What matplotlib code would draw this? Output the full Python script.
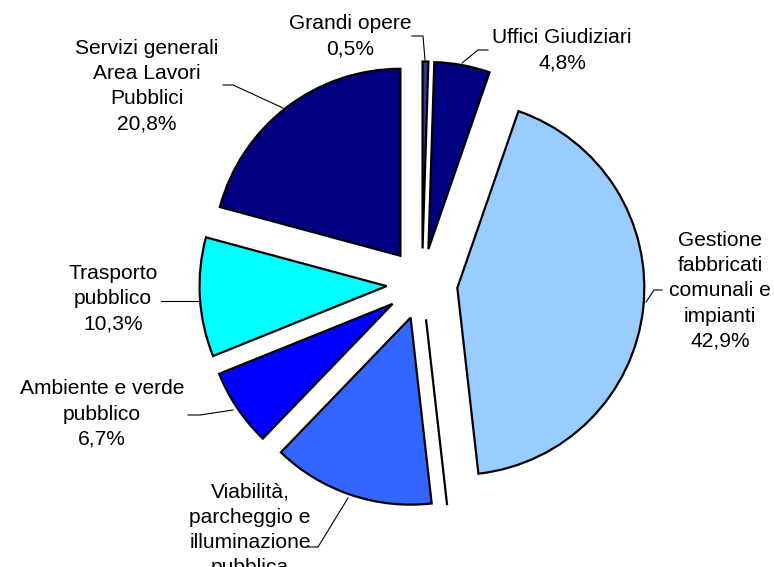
import matplotlib.pyplot as plt

# dati
categorie = ['Grandi opere', 'Uffici Giudiziari', 'Gestione fabbricati comunali e impianti',
             '', 'Viabilità, parcheggio e illuminazione pubblica', 'Ambiente e verde pubblico',
             'Trasporto pubblico', 'Servizi generali Area Lavori Pubblici']
valori = [0.5, 4.8, 42.9, 0.0, 14.0, 6.7, 10.3, 20.8]
colori = ['#333399', '#000080', '#99CCFF', '#FFFFFF', '#3366FF', '#0000FF', '#00FFFF', '#000080']
etichette = ['Grandi opere\n0,5%', 'Uffici Giudiziari\n4,8%',
             'Gestione\nfabbricati\ncomunali e\nimpianti\n42,9%', None,
             'Viabilità,\nparcheggio e\nilluminazione\npubblica',
             'Ambiente e verde\npubblico\n6,7%', 'Trasporto\npubblico\n10,3%',
             'Servizi generali\nArea Lavori\nPubblici\n20,8%']

plt.rcParams['font.family'] = ['Liberation Sans', 'DejaVu Sans']

# centro e raggio della torta in pixel
CX, CY, R = 422, 284, 187


def px(x, y):
    return ((x - CX) / R, (CY - y) / R)


fig = plt.figure(figsize=(7.74, 5.67), dpi=100)
ax = fig.add_axes([0, 0, 1, 1])
ax.pie(valori, colors=colori, startangle=90, counterclock=False,
       explode=[0.19] * len(valori), radius=1,
       wedgeprops=dict(edgecolor='black', linewidth=1.6))
ax.set_xlim(-CX / R, (774 - CX) / R)
ax.set_ylim(-(567 - CY) / R, CY / R)
ax.set_aspect('equal')
ax.axis('off')

# posizioni delle etichette e linee guida (pixel)
pos_testo = [(350, 36), (562, 50), (720, 291), None, (250, 530), (102, 414), (113, 299), (147, 86)]
linee = [
    [(412, 36), (423, 36), (425, 60)],
    [(488, 50), (478, 50), (462, 63)],
    [(662, 290), (654, 290), (646, 302)],
    None,
    [(308, 547), (318, 547), (348, 498)],
    [(188, 415), (200, 415), (233, 410)],
    [(161, 301), (198, 301)],
    [(223, 85), (233, 85), (283, 108)],
]

for testo, pos, linea in zip(etichette, pos_testo, linee):
    if testo is None:
        continue
    x, y = px(*pos)
    ax.text(x, y, testo, ha='center', va='center', fontsize=15.1,
            linespacing=1.41, color='black')
    pts = [px(a, b) for a, b in linea]
    ax.plot([p[0] for p in pts], [p[1] for p in pts], color='black', lw=0.8)

fig.savefig('out.png', dpi=100)
